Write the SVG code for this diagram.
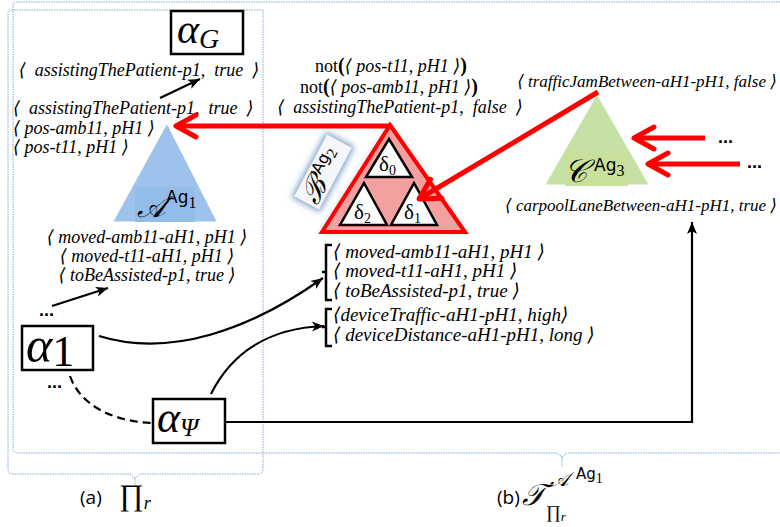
<svg xmlns="http://www.w3.org/2000/svg" width="780" height="527" viewBox="0 0 780 527">
<style>
.t{font-family:"Liberation Serif","DejaVu Serif",serif;font-style:italic;font-size:18px;fill:#000}
.g{font-size:19px}
.u{font-family:"Liberation Serif","DejaVu Serif",serif;font-style:normal;fill:#000}
.m{font-family:"Liberation Serif","DejaVu Serif",serif;font-style:italic;fill:#000}
.sf{font-family:"DejaVu Sans","Liberation Sans",sans-serif;fill:#000}
.dots{font-family:"Liberation Sans",sans-serif;font-size:18px;font-weight:bold;fill:#000}
.lab{font-family:"Open Sans","Liberation Sans",sans-serif;font-size:19px;fill:#000}
.box{fill:#fff;stroke:#000;stroke-width:2.5}
.blk{fill:none;stroke:#000;stroke-width:2.2}
.red{fill:none;stroke:#ff0000;stroke-width:5}
.dot{fill:none;stroke:#7ea8d8;stroke-width:1;stroke-dasharray:1.5 1}
.inner{fill:#fff;stroke:#000;stroke-width:2.5;stroke-linejoin:miter}
</style>
<defs>
<marker id="ab" markerUnits="userSpaceOnUse" markerWidth="16" markerHeight="12" refX="0" refY="0" viewBox="-13 -6 16 12" orient="auto">
<path d="M-12,-5 L0,0 L-12,5 L-9,0 z" fill="#000"/>
</marker>
<marker id="ar" markerUnits="userSpaceOnUse" markerWidth="30" markerHeight="30" refX="0" refY="0" viewBox="-25 -15 30 30" orient="auto">
<path d="M-20,-11 L0,0 L-20,11" fill="none" stroke="#ff0000" stroke-width="5" stroke-linecap="round" stroke-linejoin="round"/>
</marker>
<filter id="glow" x="-30%" y="-30%" width="160%" height="160%">
<feGaussianBlur stdDeviation="3"/>
</filter>
</defs>

<g id="brackets">
<path class="dot" d="M780,2 H16 Q13,2 13,5 V448 Q13,453 18,453 H557 L562,457 L567,453 H780 M562,457 V466"/>
<path class="dot" d="M263,10 H11 Q8,10 8,13 V469 Q8,474 13,474 H130 L135,478 L140,474 H258 Q263,474 263,469 V10 M135,478 V487"/>
</g>

<g id="alphaG">
<rect class="box" x="171" y="11" width="72" height="43"/>
<text class="m" x="177" y="43" font-size="42">α<tspan font-size="28" dy="5">G</tspan></text>
</g>
<text class="t" x="139" y="76" text-anchor="middle">⟨&#160; assistingThePatient-p1,&#160; true&#160; ⟩</text>

<g id="A">
<polygon points="167,121 219,223 111,223" fill="#9dc3ec" stroke="#fff" stroke-width="3"/>
<rect x="135" y="187" width="60" height="35" fill="#93bde9"/>
<text class="m" x="137" y="217" font-size="30">𝒜</text>
<text class="sf" x="166" y="203" font-size="17">Ag<tspan class="u" font-size="16" dy="5">1</tspan></text>
</g>
<g id="A-texts">
<text class="t" x="13" y="114">⟨&#160; assistingThePatient-p1,&#160; true&#160; ⟩</text>
<text class="t" x="13" y="134">⟨ pos-amb11, pH1 ⟩</text>
<text class="t" x="13" y="153">⟨ pos-t11, pH1 ⟩</text>
<text class="t" x="147" y="243" text-anchor="middle">⟨ moved-amb11-aH1, pH1 ⟩</text>
<text class="t" x="147" y="262" text-anchor="middle">⟨ moved-t11-aH1, pH1 ⟩</text>
<text class="t" x="147" y="281" text-anchor="middle">⟨ toBeAssisted-p1, true ⟩</text>
</g>

<g id="alpha1">
<text class="dots" x="39" y="316">...</text>
<rect class="box" x="22" y="326" width="71" height="44"/>
<text class="m" x="26" y="362" font-size="50">α<tspan class="u" font-size="44" dy="4">1</tspan></text>
<text class="dots" x="47" y="388">...</text>
</g>

<g id="alphaPsi">
<rect class="box" x="153" y="399" width="72" height="44"/>
<text class="m" x="157" y="432" font-size="44">α<tspan font-size="26" dy="4">Ψ</tspan></text>
</g>

<g id="B">
<polygon points="390,125 465,232 322,232" fill="#7f9fc6" filter="url(#glow)" opacity="0.8"/>
<polygon points="390,125 465,232 322,232" fill="#f3a0a0" stroke="#ff0000" stroke-width="4" stroke-linejoin="miter"/>
<polygon class="inner" points="389,139 412,177 366,177"/>
<polygon class="inner" points="364,183 387,225 340,225"/>
<polygon class="inner" points="414,183 437,225 391,225"/>
<text class="u" x="379" y="171" font-size="21">δ<tspan font-size="14" dy="4">0</tspan></text>
<text class="u" x="354" y="219" font-size="21">δ<tspan font-size="14" dy="4">2</tspan></text>
<text class="u" x="404" y="219" font-size="21">δ<tspan font-size="14" dy="4">1</tspan></text>
</g>
<g id="B-label" transform="translate(323,172) rotate(-62)">
<rect x="-37" y="-16" width="74" height="32" fill="#7f9fc6" filter="url(#glow)"/>
<rect x="-35" y="-14" width="70" height="28" fill="#f4f6f9"/>
<text class="m" x="-33" y="11" font-size="30">ℬ</text>
<text class="sf" x="-4" y="-1" font-size="16">Ag<tspan class="u" font-size="15" dy="5">2</tspan></text>
</g>
<g id="B-texts">
<text class="u" x="391" y="72" text-anchor="middle" font-size="18">not<tspan font-size="20" font-weight="bold">(</tspan><tspan class="t">⟨ pos-t11, pH1 ⟩</tspan><tspan font-size="20" font-weight="bold">)</tspan></text>
<text class="u" x="389" y="93" text-anchor="middle" font-size="18">not<tspan font-size="20" font-weight="bold">(</tspan><tspan class="t">⟨ pos-amb11, pH1 ⟩</tspan><tspan font-size="20" font-weight="bold">)</tspan></text>
<text class="t" x="400" y="113" text-anchor="middle">⟨&#160; assistingThePatient-p1,&#160; false&#160; ⟩</text>
</g>

<g id="C">
<polygon points="597,92 651,186 543,186" fill="#c6e1a6" stroke="#fff" stroke-width="3"/>
<rect x="565" y="153" width="63" height="33" fill="#c8e09a"/>
<text class="m" x="564" y="182" font-size="32">𝒞</text>
<text class="sf" x="594" y="171" font-size="17">Ag<tspan class="u" font-size="16" dy="5">3</tspan></text>
<text class="t" x="647" y="87" text-anchor="middle" style="font-size:17px">⟨ trafficJamBetween-aH1-pH1, false ⟩</text>
<text class="t" x="641" y="211" text-anchor="middle" style="font-size:17px">⟨ carpoolLaneBetween-aH1-pH1, true ⟩</text>
<text class="dots" x="718" y="143">...</text>
<text class="dots" x="747" y="168">...</text>
</g>

<g id="group1">
<path d="M332,245 H326 V300 H332" fill="none" stroke="#000" stroke-width="2.5"/>
<path d="M322,272 H326" stroke="#000" stroke-width="2.5"/>
<text class="t g" x="333" y="258">⟨ moved-amb11-aH1, pH1 ⟩</text>
<text class="t g" x="333" y="277">⟨ moved-t11-aH1, pH1 ⟩</text>
<text class="t g" x="333" y="297">⟨ toBeAssisted-p1, true ⟩</text>
</g>
<g id="group2">
<path d="M332,309 H326 V346 H332" fill="none" stroke="#000" stroke-width="2.5"/>
<path d="M322,327 H326" stroke="#000" stroke-width="2.5"/>
<text class="t g" x="333" y="321">⟨deviceTraffic-aH1-pH1, high⟩</text>
<text class="t g" x="333" y="341">⟨ deviceDistance-aH1-pH1, long ⟩</text>
</g>

<g id="connectors">
<path class="red" d="M390,126 H176" marker-end="url(#ar)"/>
<path class="red" d="M598,92 L419,199" marker-end="url(#ar)"/>
<path class="red" d="M705,138 H634" marker-end="url(#ar)"/>
<path class="red" d="M740,164 H648" marker-end="url(#ar)"/>
<path class="blk" d="M160,98 L200,79" marker-end="url(#ab)"/>
<path class="blk" d="M52,306 L108,288" marker-end="url(#ab)"/>
<path class="blk" d="M99,336 C170,358 250,330 323,278" marker-end="url(#ab)"/>
<path class="blk" d="M211,394 C232,352 270,328 324,326" marker-end="url(#ab)"/>
<path class="blk" d="M70,376 C80,405 112,421 151,423" stroke-dasharray="8 5"/>
<path class="blk" d="M225,422 H692 V222" marker-end="url(#ab)"/>
</g>

<g id="labels">
<text class="lab" x="80" y="504">(a)</text>
<text class="u" x="119" y="505" font-size="30">∏<tspan class="m" font-size="18" dy="4">r</tspan></text>
<text class="lab" x="497" y="504">(b)</text>
<text class="m" x="522" y="505" font-size="30">𝒯</text>
<text class="m" x="550" y="486" font-size="20">𝒜</text>
<text class="sf" x="576" y="479" font-size="15">Ag<tspan class="u" font-size="14" dy="4">1</tspan></text>
<text class="u" x="546" y="518" font-size="18">∏<tspan class="m" font-size="13" dy="3">r</tspan></text>
</g>
</svg>
